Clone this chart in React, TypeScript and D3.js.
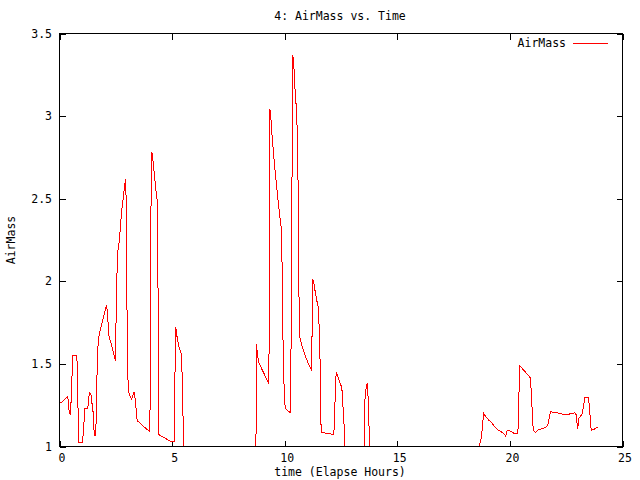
import React from "react";
import * as d3 from "d3";

const title = "4: AirMass vs. Time";
const xLabel = "time (Elapse Hours)";
const yLabel = "AirMass";
const seriesName = "AirMass";
const xTicks = [0, 5, 10, 15, 20, 25];
const yTicks = [1, 1.5, 2, 2.5, 3, 3.5];

// elapsed hours
const times = [
  0.0, 0.089, 0.369, 0.413, 0.475, 0.52, 0.564, 0.59, 0.768, 0.8, 0.83, 0.857, 1.008, 1.066, 1.097, 1.123,
  1.257, 1.301, 1.345, 1.421, 1.452, 1.51, 1.541, 1.612, 1.63, 1.674, 1.718, 1.807, 1.95, 2.087, 2.131, 2.189,
  2.34, 2.487, 2.5, 2.544, 2.589, 2.633, 2.678, 2.722, 2.766, 2.811, 2.855, 2.9, 2.944, 2.975, 3.006, 3.051,
  3.108, 3.197, 3.255, 3.317, 3.375, 3.419, 3.45, 3.73, 4.01, 4.041, 4.054, 4.099, 4.13, 4.174, 4.219, 4.263,
  4.307, 4.352, 4.383, 4.41, 4.67, 4.929, 5.107, 5.12, 5.164, 5.195, 5.24, 5.298, 5.373, 5.417, 5.448, 5.493,
  5.53,
  8.70, 8.74, 8.84, 9.05, 9.30, 9.338, 9.383, 9.414, 9.458, 9.503, 9.547, 9.591, 9.636, 9.68, 9.725, 9.769,
  9.813, 9.858, 9.889, 9.933, 9.991, 10.036, 10.258, 10.289, 10.333, 10.36, 10.404, 10.435, 10.48, 10.524,
  10.555, 10.6, 10.626, 10.67, 10.733, 10.821, 10.924, 11.07, 11.19, 11.221, 11.248, 11.292, 11.354, 11.412,
  11.488, 11.559, 11.59, 11.621, 12.003, 12.18, 12.211, 12.256, 12.287, 12.358, 12.447, 12.536, 12.58, 12.655,
  12.68,
  13.52, 13.544, 13.601, 13.664, 13.708, 13.752, 13.78,
  18.60, 18.64, 18.739, 18.797, 18.841, 18.916, 19.063, 19.183, 19.285, 19.436, 19.583, 19.73, 19.818, 19.88,
  19.951, 20.058, 20.218, 20.351, 20.382, 20.413, 20.44, 20.618, 20.915, 20.946, 21.004, 21.035, 21.137, 21.283,
  21.434, 21.581, 21.683, 21.745, 21.803, 21.879, 22.101, 22.394, 22.571, 22.691, 22.882, 22.944, 22.988, 23.015,
  23.06, 23.135, 23.21, 23.281, 23.326, 23.49, 23.535, 23.579, 23.61, 23.726, 23.801, 23.921,
];

// air mass (values below 1 = object below horizon, clipped by the frame)
const airMass = [
  1.27, 1.265, 1.306, 1.223, 1.193, 1.284, 1.455, 1.55, 1.554, 1.425, 1.159, 1.022, 1.026, 1.085, 1.177, 1.229,
  1.229, 1.3, 1.324, 1.308, 1.243, 1.193, 1.068, 1.065, 1.204, 1.485, 1.64, 1.707, 1.78, 1.857, 1.807, 1.676,
  1.596, 1.515, 1.676, 2.008, 2.184, 2.22, 2.28, 2.365, 2.431, 2.481, 2.536, 2.588, 2.617, 2.3, 1.656, 1.344,
  1.314, 1.288, 1.308, 1.33, 1.268, 1.204, 1.157, 1.122, 1.089, 1.515, 2.36, 2.783, 2.757, 2.697, 2.636, 2.576,
  2.522, 2.475, 1.757, 1.072, 1.052, 1.032, 1.028, 1.374, 1.723, 1.687, 1.646, 1.606, 1.575, 1.556, 1.415, 1.139,
  0.0,
  0.0, 1.62, 1.51, 1.45, 1.38, 3.045, 3.005, 2.918, 2.854, 2.774, 2.703, 2.643, 2.582, 2.522, 2.461, 2.411,
  2.36, 2.315, 2.049, 1.556, 1.274, 1.228, 1.204, 1.737, 2.824, 3.367, 3.313, 3.216, 3.12, 3.035,
  2.914, 2.542, 1.968, 1.666, 1.626, 1.586, 1.545, 1.495, 1.465, 1.737, 2.013, 1.989, 1.938, 1.892,
  1.844, 1.642, 1.264, 1.086, 1.077, 1.072, 1.163, 1.364, 1.451, 1.425, 1.385, 1.358, 1.264, 1.083,
  0.0,
  0.0, 1.254, 1.344, 1.385, 1.284, 1.092, 0.0,
  0.0, 1.008, 1.053, 1.153, 1.199, 1.183, 1.159, 1.147, 1.127, 1.103, 1.092, 1.079, 1.062, 1.098,
  1.097, 1.091, 1.077, 1.077, 1.173, 1.385, 1.489, 1.461, 1.415, 1.334, 1.183, 1.098, 1.086, 1.103,
  1.107, 1.117, 1.127, 1.173, 1.213, 1.207, 1.204, 1.193, 1.193, 1.199, 1.204, 1.193, 1.133, 1.107,
  1.173, 1.183, 1.199, 1.254, 1.294, 1.298, 1.234, 1.147, 1.098, 1.103, 1.111, 1.117,
];

const W = 640;
const H = 480;
const L = 59.5;
const R = 622.5;
const T = 33.5;
const B = 446.5;
const FONT = "'DejaVu Sans Mono', 'Liberation Mono', monospace";
const FS = 11.5;

export default function App() {
  const x = d3.scaleLinear().domain([0, 25]).range([L, R]);
  const y = d3.scaleLinear().domain([1, 3.5]).range([B, T]);
  const pts: [number, number][] = times.map((t, i) => [t, airMass[i]]);
  const line = d3
    .line<[number, number]>()
    .x((d) => x(d[0]))
    .y((d) => y(d[1]));
  const tick = 6;

  return (
    <svg
      width={W}
      height={H}
      style={{ position: "absolute", left: 0, top: 0, background: "#fff" }}
      fontFamily={FONT}
      fontSize={FS}
    >
      <rect x={0} y={0} width={W} height={H} fill="#fff" />
      <defs>
        <clipPath id="plotclip">
          <rect x={L} y={T} width={R - L} height={B - T} />
        </clipPath>
      </defs>
      {/* ticks */}
      {xTicks.map((t) => (
        <g key={"xt" + t}>
          <line x1={Math.round(x(t)) + 0.5} x2={Math.round(x(t)) + 0.5} y1={B} y2={B - tick} stroke="#000" shapeRendering="crispEdges" />
          <line x1={Math.round(x(t)) + 0.5} x2={Math.round(x(t)) + 0.5} y1={T} y2={T + tick} stroke="#000" shapeRendering="crispEdges" />
          <text x={x(t) + 2.5} y={462} textAnchor="middle">
            {t}
          </text>
        </g>
      ))}
      {yTicks.map((t) => (
        <g key={"yt" + t}>
          <line x1={L} x2={L + tick} y1={Math.round(y(t)) + 0.5} y2={Math.round(y(t)) + 0.5} stroke="#000" shapeRendering="crispEdges" />
          <line x1={R} x2={R - tick} y1={Math.round(y(t)) + 0.5} y2={Math.round(y(t)) + 0.5} stroke="#000" shapeRendering="crispEdges" />
          <text x={52} y={y(t) + 4} textAnchor="end">
            {t}
          </text>
        </g>
      ))}
      <path
        d={line(pts) || ""}
        fill="none"
        stroke="#ff0000"
        strokeWidth={1}
        shapeRendering="crispEdges"
        clipPath="url(#plotclip)"
      />
      <rect x={L} y={T} width={R - L} height={B - T} fill="none" stroke="#000" shapeRendering="crispEdges" />
      {/* title and labels */}
      <text x={340} y={20} textAnchor="middle">
        {title}
      </text>
      <text x={340} y={476} textAnchor="middle">
        {xLabel}
      </text>
      <text transform="translate(15,240) rotate(-90)" textAnchor="middle">
        {yLabel}
      </text>
      {/* legend */}
      <text x={566} y={47} textAnchor="end">
        {seriesName}
      </text>
      <line x1={573} x2={608} y1={43.5} y2={43.5} stroke="#ff0000" shapeRendering="crispEdges" />
    </svg>
  );
}
